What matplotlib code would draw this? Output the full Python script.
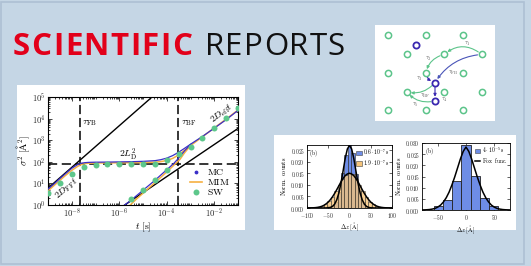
import matplotlib
matplotlib.use('Agg')
import matplotlib.pyplot as plt
from matplotlib.patches import Rectangle, FancyArrowPatch, Patch
from matplotlib.lines import Line2D
from matplotlib.ticker import LogLocator, NullFormatter

plt.rcParams['mathtext.fontset'] = 'cm'
plt.rcParams['font.family'] = ['DejaVu Serif']
plt.rcParams['axes.unicode_minus'] = False

# ------------------------------------------------------------------ data
# main panel: MSD sigma^2 [A^2] vs t [s]
t_mc_up = [1.0e-9, 1.8e-9, 3.2e-9, 5.6e-9, 1.0e-8, 1.8e-8, 2.5e-8, 3.5e-8, 5.0e-8, 1.0e-7,
           3.2e-7, 1.0e-6, 3.2e-6, 1.0e-5, 3.2e-5, 5.6e-5, 1.0e-4, 1.8e-4, 3.2e-4, 5.6e-4,
           1.0e-3, 3.2e-3, 1.0e-2, 3.2e-2, 1.0e-1]
s_mc_up = [5.5, 9.5, 17, 29, 50, 75, 86, 91, 94, 96,
           97, 99, 101, 105, 113, 125, 148, 195, 280, 420,
           650, 1500, 3600, 9000, 24000]
t_mim_up = t_mc_up
s_mim_up = [4.5, 8, 14, 24, 40, 62, 74, 82, 86, 88,
            89, 90, 91, 92, 96, 102, 115, 145, 210, 340,
            560, 1450, 3700, 9500, 25000]
t_mc_lo = [1.2e-6, 3.2e-6, 1.0e-5, 3.2e-5, 1.0e-4, 2.0e-4, 3.2e-4, 5.6e-4, 1.0e-3]
s_mc_lo = [0.75, 1.7, 4.8, 14, 43, 85, 150, 320, 640]
t_mim_lo = [2.5e-6, 5.6e-6, 1.0e-5, 3.2e-5, 1.0e-4, 2.0e-4, 3.6e-4, 5.6e-4, 1.0e-3]
s_mim_lo = [0.85, 2.0, 3.5, 11, 34, 70, 130, 260, 560]
t_sw_up = [1.0e-9, 3.2e-9, 1.0e-8, 3.2e-8, 1.0e-7, 3.2e-7, 1.0e-6, 3.2e-6, 1.0e-5,
           3.2e-5, 1.0e-4, 3.2e-4, 1.0e-3, 3.2e-3, 1.0e-2, 3.2e-2, 1.0e-1]
s_sw_up = [3.6, 10, 28, 55, 72, 75, 75, 75, 75, 78, 120, 230, 490, 1260, 3650, 10700, 31000]
t_sw_lo = [3.2e-6, 1.0e-5, 3.2e-5, 1.0e-4]
s_sw_lo = [1.8, 5.0, 14, 42]
t_ff = [1.0e-9, 2.4e-5]          # 2 D_FF t guide
s_ff = [6.0, 1.0e5]
t_eff = [1.7e-6, 1.0e-1]         # 2 D_eff t guide
s_eff = [1.0, 3500]
L2 = 83                          # 2 L_D^2 plateau
tau_fb = 2.2e-8
tau_bf = 3.0e-4
x_ticks = [1e-8, 1e-6, 1e-4, 1e-2]
x_ticklabels = [r'$10^{-8}$', r'$10^{-6}$', r'$10^{-4}$', r'$10^{-2}$']
y_ticks = [1, 10, 100, 1e3, 1e4, 1e5]
y_ticklabels = [r'$10^{0}$', r'$10^{1}$', r'$10^{2}$', r'$10^{3}$', r'$10^{4}$', r'$10^{5}$']

# histogram panel (left)
hl_centers = [-96, -88, -80, -72, -64, -56, -48, -40, -32, -24, -16, -8, 0,
              8, 16, 24, 32, 40, 48, 56, 64, 72, 80, 88, 96]
hl_blue = [0, 0, 0, 0, 0, 0.00002, 0.00015, 0.0008, 0.0027, 0.0070, 0.0153, 0.0228, 0.0270,
           0.0236, 0.0147, 0.0074, 0.0025, 0.0006, 0.0001, 0, 0, 0, 0, 0, 0]
hl_orange = [0.00002, 0.00006, 0.00017, 0.0004, 0.0008, 0.0016, 0.0030, 0.0047, 0.0074, 0.0099,
             0.0126, 0.0142, 0.0151, 0.0145, 0.0124, 0.0101, 0.0072, 0.0049, 0.0028, 0.0017,
             0.0008, 0.0004, 0.00015, 0.00005, 0.00002]
fitb_x = [-100, -60, -55, -50, -45, -40, -35, -30, -25, -20, -15, -10, -5, 0,
          5, 10, 15, 20, 25, 30, 35, 40, 45, 50, 55, 60, 100]
fitb_y = [0, 0, 0.00003, 0.00009, 0.00026, 0.0007, 0.00165, 0.0035, 0.0065, 0.0108, 0.0161,
          0.0215, 0.0255, 0.0270, 0.0255, 0.0215, 0.0161, 0.0108, 0.0065, 0.0035, 0.00165,
          0.0007, 0.00026, 0.00009, 0.00003, 0, 0]
fito_x = [-100, -95, -90, -85, -80, -75, -70, -65, -60, -55, -50, -45, -40, -35, -30, -25,
          -20, -15, -10, -5, 0, 5, 10, 15, 20, 25, 30, 35, 40, 45, 50, 55, 60, 65, 70, 75,
          80, 85, 90, 95, 100]
fito_y = [0.00001, 0.00002, 0.00005, 0.00009, 0.00016, 0.00028, 0.00047, 0.00075, 0.00118,
          0.0018, 0.00256, 0.0036, 0.00484, 0.0063, 0.0079, 0.0096, 0.0113, 0.0128, 0.0140,
          0.0147, 0.0150, 0.0147, 0.0140, 0.0128, 0.0113, 0.0096, 0.0079, 0.0063, 0.00484,
          0.0036, 0.00256, 0.0018, 0.00118, 0.00075, 0.00047, 0.00028, 0.00016, 0.00009,
          0.00005, 0.00002, 0.00001]
hl_labels = [r'$0.6\cdot10^{-7}\,\mathrm{s}$', r'$1.9\cdot10^{-7}\,\mathrm{s}$']
hl_xticks = [-100, -50, 0, 50, 100]
hl_yticks = [0, 0.005, 0.010, 0.015, 0.020, 0.025]
hl_yticklabels = ['0.000', '0.005', '0.010', '0.015', '0.020', '0.025']

# histogram panel (right)
hr_centers = [-48, -32, -16, 0, 16, 32, 48]
hr_blue = [0.0019, 0.0044, 0.0130, 0.0290, 0.0153, 0.0054, 0.0017]
fox_x = [-80, -75, -70, -65, -60, -55, -50, -45, -40, -35, -30, -25, -20, -15, -10, -5, 0,
         5, 10, 15, 20, 25, 30, 35, 40, 45, 50, 55, 60, 65, 70, 75, 80]
fox_y = [0.00002, 0.00005, 0.0001, 0.0002, 0.0004, 0.0007, 0.0013, 0.0022, 0.0036, 0.0055,
         0.0080, 0.0112, 0.0148, 0.0188, 0.0228, 0.0262, 0.0282, 0.0262, 0.0228, 0.0188,
         0.0148, 0.0112, 0.0080, 0.0055, 0.0036, 0.0022, 0.0013, 0.0007, 0.0004, 0.0002,
         0.0001, 0.00005, 0.00002]
hr_labels = [r'$4\cdot10^{-5}\,\mathrm{s}$', r'$\mathrm{Fox}\ \ \mathrm{func.}$']
hr_xticks = [-50, 0, 50]
hr_yticks = [0, 0.005, 0.010, 0.015, 0.020, 0.025, 0.030]
hr_yticklabels = ['0.000', '0.005', '0.010', '0.015', '0.020', '0.025', '0.030']

# ------------------------------------------------------------------ figure
W, H = 531, 266
BG = '#c5d6e5'
fig = plt.figure(figsize=(W / 100, H / 100), dpi=100, facecolor=BG)
renderer = fig.canvas.get_renderer()


def fbox(x0, y0, x1, y1):
    return [x0 / W, 1 - y1 / H, (x1 - x0) / W, (y1 - y0) / H]


def white_box(x0, y0, x1, y1):
    b = fbox(x0, y0, x1, y1)
    fig.patches.append(Rectangle((b[0], b[1]), b[2], b[3], transform=fig.transFigure,
                                 facecolor='white', edgecolor='none', zorder=-1))


def spaced_text(word, x0, x1, ybase, **kw):
    """Draw a word letter by letter so that it spans pixels x0..x1."""
    arts, widths = [], []
    for ch in word:
        t = fig.text(0, 1 - ybase / H, ch, ha='left', va='baseline', **kw)
        widths.append(t.get_window_extent(renderer).width)
        arts.append(t)
    gap = (x1 - x0 - sum(widths)) / (len(word) - 1)
    x = x0
    for t, w in zip(arts, widths):
        t.set_x(x / W)
        x += w + gap


fig.patches.append(Rectangle((1 / W, 2 / H), 523 / W, 262 / H, transform=fig.transFigure,
                             facecolor='none', edgecolor='#aec0d4', lw=1.2, zorder=-1))
white_box(17, 85, 245, 230)
white_box(375, 25, 495, 121)
white_box(274, 135, 516, 230)

# title
spaced_text('SCIENTIFIC', 13, 192, 55, color='#e2001a', fontsize=22.5,
            family='Open Sans', weight='bold')
spaced_text('REPORTS', 205, 345, 55, color='#111111', fontsize=22.5,
            family='Open Sans', weight='normal')

# ------------------------------------------------------------------ main plot
C_MC = '#3a2fc8'
C_MIM = '#f6b042'
C_SW = '#5dc78b'
ax = fig.add_axes(fbox(48, 97, 238, 205))
ax.set_xscale('log')
ax.set_yscale('log')
ax.set_xlim(1e-9, 1e-1)
ax.set_ylim(1, 1e5)
ax.plot(t_ff, s_ff, color='k', lw=1.0, zorder=2)
ax.plot(t_eff, s_eff, color='k', lw=1.0, zorder=2)
ax.axhline(L2, color='k', lw=1.1, ls=(0, (6, 3)), zorder=2)
ax.axvline(tau_fb, color='k', lw=1.1, ls=(0, (6, 2.5)), zorder=2)
ax.axvline(tau_bf, color='k', lw=1.1, ls=(0, (6, 2.5)), zorder=2)
ax.plot(t_mim_up, s_mim_up, color=C_MIM, lw=1.1, zorder=3)
ax.plot(t_mim_lo, s_mim_lo, color=C_MIM, lw=1.1, zorder=3)
ax.plot(t_mc_up, s_mc_up, color=C_MC, lw=0.9, zorder=4)
ax.plot(t_mc_lo, s_mc_lo, color=C_MC, lw=0.9, zorder=4)
ax.plot(t_sw_up, s_sw_up, 'o', color=C_SW, ms=4.3, mec='none', zorder=5)
ax.plot(t_sw_lo, s_sw_lo, 'o', color=C_SW, ms=4.3, mec='none', zorder=5)
ax.set_xticks(x_ticks, x_ticklabels)
ax.set_yticks(y_ticks, y_ticklabels)
ax.xaxis.set_minor_locator(LogLocator(base=10, subs=range(1, 10), numticks=40))
ax.yaxis.set_minor_locator(LogLocator(base=10, subs=range(2, 10), numticks=40))
ax.xaxis.set_minor_formatter(NullFormatter())
ax.yaxis.set_minor_formatter(NullFormatter())
ax.tick_params(which='both', direction='in', top=True, right=True, labelsize=6.2,
               colors='#222222', width=0.6)
ax.tick_params(which='major', length=3, pad=1.5)
ax.tick_params(which='minor', length=1.6)
for s in ax.spines.values():
    s.set_linewidth(0.8)
ax.set_xlabel(r'$t\ [\mathrm{s}]$', fontsize=7, labelpad=0)
ax.set_ylabel(r'$\sigma^2\ [\mathrm{\AA}^2]$', fontsize=7, labelpad=0)
ax.text(2.8e-8, 6000, r'$\tau_{\rm FB}$', fontsize=7, ha='left', va='center')
ax.text(3.9e-4, 6000, r'$\tau_{\rm BF}$', fontsize=7, ha='left', va='center')
ax.text(2.3e-6, 200, r'$2L_{\rm D}^2$', fontsize=7, ha='center', va='center')
ax.text(6.3e-9, 5.5, r'$2D_{\rm FF}t$', fontsize=7, ha='center', va='center', rotation=40)
ax.text(2.1e-2, 18000, r'$2D_{\rm eff}t$', fontsize=7, ha='center', va='center', rotation=37)
handles = [Line2D([], [], ls='none', marker='.', ms=3.5, color=C_MC),
           Line2D([], [], color=C_MIM, lw=1.2),
           Line2D([], [], ls='none', marker='o', ms=4.3, color=C_SW, mec='none')]
ax.legend(handles, [r'$\mathrm{MC}$', r'$\mathrm{MIM}$', r'$\mathrm{SW}$'],
          loc='lower right', bbox_to_anchor=(1.0, 0.0), frameon=False, fontsize=7,
          handlelength=1.3, handletextpad=0.5, labelspacing=0.0, borderpad=0.3)

# ------------------------------------------------------------------ histograms
C_HB = '#6e8de6'
C_HO = '#f5c47a'
hl = fig.add_axes(fbox(307, 145, 392, 208))
hl.bar(hl_centers, hl_blue, width=8, color=C_HB, edgecolor='#222222', lw=0.4, zorder=2)
hl.bar(hl_centers, hl_orange, width=8, color=C_HO, alpha=0.8, edgecolor='#222222', lw=0.4,
       zorder=3)
hl.plot(fitb_x, fitb_y, color='k', lw=1.1, zorder=4)
hl.plot(fito_x, fito_y, color='k', lw=1.1, zorder=4)
hl.set_xlim(-100, 100)
hl.set_ylim(0, 0.0272)
hl.set_xticks(hl_xticks, [r'$%d$' % v for v in hl_xticks])
hl.set_yticks(hl_yticks, [r'$%s$' % s for s in hl_yticklabels])
hl.legend([Patch(facecolor=C_HB, edgecolor='#444444', lw=0.4),
           Patch(facecolor=C_HO, edgecolor='#444444', lw=0.4)], hl_labels,
          loc='upper right', frameon=False, fontsize=4, handlelength=1.0, handleheight=0.9,
          handletextpad=0.3, labelspacing=0.2, borderpad=0.2, borderaxespad=0.2)
hl.text(0.02, 0.96, r'$\mathrm{(b)}$', transform=hl.transAxes, fontsize=4, va='top')
hl.set_xlabel(r'$\Delta z\ [\mathrm{\AA}]$', fontsize=4.5, labelpad=0)
hl.set_ylabel(r'$\mathrm{Norm.\ counts}$', fontsize=4.5, labelpad=2)

hr = fig.add_axes(fbox(422, 143, 510, 210))
hr.bar(hr_centers, hr_blue, width=16, color=C_HB, edgecolor='#222222', lw=0.6, zorder=2)
hr.plot(fox_x, fox_y, color='k', lw=1.1, zorder=4)
hr.set_xlim(-78, 78)
hr.set_ylim(0, 0.030)
hr.set_xticks(hr_xticks, [r'$%d$' % v for v in hr_xticks])
hr.set_yticks(hr_yticks, [r'$%s$' % s for s in hr_yticklabels])
hr.legend([Patch(facecolor=C_HB, edgecolor='#444444', lw=0.4),
           Line2D([], [], color='k', lw=1.1)], hr_labels,
          loc='upper right', frameon=False, fontsize=4, handlelength=1.0, handleheight=0.9,
          handletextpad=0.3, labelspacing=0.2, borderpad=0.2, borderaxespad=0.2)
hr.text(0.03, 0.96, r'$\mathrm{(b)}$', transform=hr.transAxes, fontsize=4, va='top')
hr.set_xlabel(r'$\Delta z\ [\mathrm{\AA}]$', fontsize=4.5, labelpad=1)
hr.set_ylabel(r'$\mathrm{Norm.\ counts}$', fontsize=4.5, labelpad=2)

for a in (hl, hr):
    a.tick_params(direction='in', top=True, right=True, labelsize=4, length=2, width=0.5,
                  colors='#222222')
    a.tick_params(axis='y', pad=1.5)
    a.tick_params(axis='x', pad=2.5)
    for s in a.spines.values():
        s.set_linewidth(0.6)

# ------------------------------------------------------------------ schematic
G = '#5cc48a'
B = '#3a28b0'
sc = fig.add_axes(fbox(375, 25, 495, 121))
sc.set_xlim(45, 405)
sc.set_ylim(332, 45)
sc.axis('off')
green_sites = [(x, y) for y in (75, 189, 300) for x in (85, 197, 310)] + \
              [(x, y) for y in (133, 245) for x in (140, 252, 365)]
blue_sites = [(167, 105), (225, 217), (225, 272)]
sc.scatter([p[0] for p in green_sites], [p[1] for p in green_sites], s=20, facecolor='white',
           edgecolor=G, lw=1.1, zorder=3)
sc.scatter([p[0] for p in blue_sites], [p[1] for p in blue_sites], s=20, facecolor='white',
           edgecolor=B, lw=1.3, zorder=3)


def arrow(p0, p1, rad, col):
    a = FancyArrowPatch(p0, p1, connectionstyle='arc3,rad=%s' % rad, arrowstyle='-|>',
                        mutation_scale=4, lw=0.8, color=col, shrinkA=3, shrinkB=3, zorder=2)
    sc.add_patch(a)


arrow((365, 133), (252, 133), 0.4, G)
arrow((252, 133), (197, 189), 0.3, G)
arrow((365, 133), (225, 217), 0.25, '#4a55b8')
arrow((197, 189), (225, 217), 0.3, B)
arrow((225, 217), (140, 245), -0.3, G)
arrow((225, 217), (225, 272), 0.0, B)
arrow((225, 272), (140, 245), -0.3, G)
lab = dict(fontsize=4.5, color='#666666', ha='center', va='center')
sc.text(323, 102, r'$\tau_1$', **lab)
sc.text(205, 147, r'$\tau_2$', **lab)
sc.text(280, 187, r'$\tau_{\rm FB}$', **lab)
sc.text(178, 207, r'$\tau_3$', **lab)
sc.text(197, 256, r'$\tau_{\rm BF}$', **lab)
sc.text(252, 268, r'$\tau_4$', **lab)
sc.text(165, 284, r'$\tau_5$', **lab)

fig.savefig('out.png', dpi=100, facecolor=BG)
